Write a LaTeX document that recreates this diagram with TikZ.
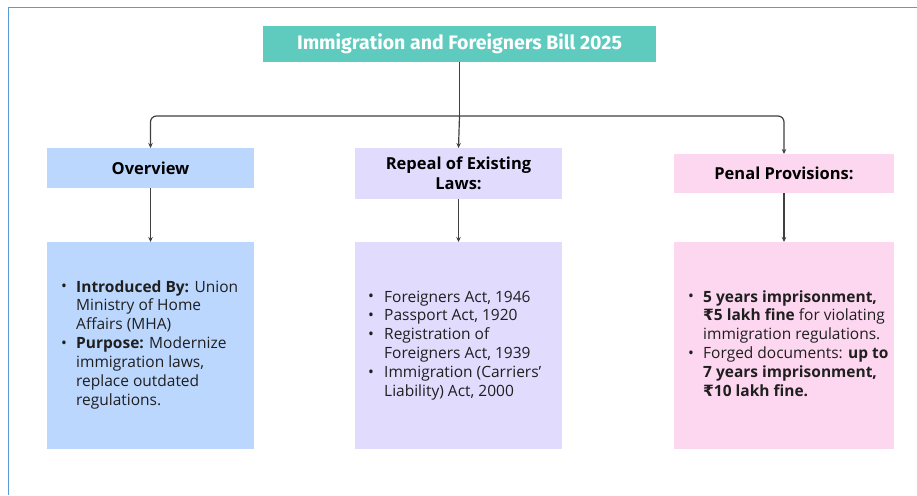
\documentclass[tikz,border=0pt]{standalone}
\usepackage{fontspec}
\setmainfont{Open Sans}
\newfontfamily\titlefont{Fira Sans}
\newfontfamily\rupeefont{DejaVu Sans}
\newcommand{\rupee}{{\rupeefont ₹}}
\usetikzlibrary{arrows.meta}
\definecolor{frameblue}{HTML}{5B9BD5}
\definecolor{teal}{HTML}{5ECBBE}
\definecolor{ovblue}{HTML}{BBD7FE}
\definecolor{replav}{HTML}{E1DBFD}
\definecolor{penpink}{HTML}{FDD7EF}
\definecolor{conn}{HTML}{404040}
\tikzset{
  boxfill/.style={draw=none, inner sep=0pt, outer sep=0pt},
  headtext/.style={font=\fontsize{16.5}{19.5}\selectfont\bfseries, align=center, text=black},
  bodytext/.style={font=\fontsize{15.5}{18.9}\selectfont, anchor=west, inner sep=0pt, text=black!88},
  conline/.style={draw=conn, line width=1.2pt},
  conarrow/.style={conline, -{Stealth[length=5pt,width=4.5pt]}},
}
\newcommand{\bul}{\raisebox{0.5pt}{\textbullet}}
\begin{document}
\begin{tikzpicture}[x=1pt,y=-1pt]
\useasboundingbox (0,0) rectangle (917,495);
\fill[white] (0,0) rectangle (917,495);
% frame
\draw[frameblue, line width=1.5pt] (8.5,495) -- (8.5,7.5) -- (917,7.5);
% title
\node[boxfill, fill=teal, minimum width=393pt, minimum height=36pt, anchor=north west,
      font=\titlefont\fontsize{19.5}{22}\selectfont\bfseries, text=white] (title) at (263,26) {Immigration and Foreigners Bill 2025};
% headers
\node[boxfill, fill=ovblue, minimum width=207pt, minimum height=40pt, anchor=north west, headtext] (ov) at (47,148) {Overview};
\node[boxfill, fill=replav, minimum width=207pt, minimum height=51pt, anchor=north west, headtext] (rep) at (355,148) {Repeal of Existing\\Laws:};
\node[boxfill, fill=penpink, minimum width=220pt, minimum height=39pt, anchor=north west, headtext] (pen) at (674,154) {Penal Provisions:};
% bodies
\node[boxfill, fill=ovblue, minimum width=207pt, minimum height=207pt, anchor=north west] (ovb) at (47,242) {};
\node[boxfill, fill=replav, minimum width=207pt, minimum height=207pt, anchor=north west] (repb) at (355,242) {};
\node[boxfill, fill=penpink, minimum width=220pt, minimum height=207pt, anchor=north west] (penb) at (674,242) {};
% body texts
\node[bodytext] (ovt) at (61,345) {\begin{tabular}{@{}p{15pt}@{}l@{}}
\bul & \textbf{Introduced By:} Union\\
 & Ministry of Home\\
 & Affairs (MHA)\\
\bul & \textbf{Purpose:} Modernize\\
 & immigration laws,\\
 & replace outdated\\
 & regulations.
\end{tabular}};
\node[bodytext] (rept) at (368,345.5) {\begin{tabular}{@{}p{16pt}@{}l@{}}
\bul & Foreigners Act, 1946\\
\bul & Passport Act, 1920\\
\bul & Registration of\\
 & Foreigners Act, 1939\\
\bul & Immigration (Carriers’\\
 & Liability) Act, 2000
\end{tabular}};
\node[bodytext] (pent) at (688,345.5) {\begin{tabular}{@{}p{15pt}@{}l@{}}
\bul & \textbf{5 years imprisonment,}\\
 & \textbf{\rupee5 lakh fine} for violating\\
 & immigration regulations.\\
\bul & Forged documents: \textbf{up to}\\
 & \textbf{7 years imprisonment,}\\
 & \textbf{\rupee10 lakh fine.}
\end{tabular}};
% connectors
\coordinate (j) at (title.south |- 0,116);
\draw[conline] (title.south) -- (j);
\draw[conarrow, rounded corners=6pt] (j) -| (ov.north);
\draw[conarrow] (j) -- (rep.north);
\draw[conarrow, rounded corners=6pt] (j) -| (pen.north);
\draw[conarrow] (ov.south) -- (ovb.north);
\draw[conarrow] (rep.south) -- (repb.north);
\draw[conarrow] (pen.south) -- (penb.north);
\end{tikzpicture}
\end{document}
